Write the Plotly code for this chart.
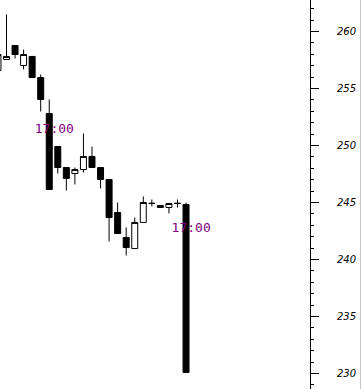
import plotly.graph_objects as go

# candle index (bar number)
bars = list(range(23))
opens = [256.58, 257.54, 258.77, 257.02, 257.81, 255.96, 252.81, 249.91, 248.07, 247.54,
         247.89, 249.04, 248.07, 247.02, 244.12, 241.93, 240.96, 243.25, 244.91, 244.56,
         244.56, 244.91, 244.82]
highs = [257.98, 261.49, 258.77, 258.42, 257.81, 256.23, 254.04, 249.91, 248.07, 248.07,
         251.05, 249.91, 248.07, 247.02, 245.00, 242.81, 243.68, 245.53, 245.26, 244.74,
         244.91, 245.26, 245.00]
lows = [256.58, 257.54, 257.63, 256.67, 255.96, 252.98, 246.14, 247.54, 246.05, 246.58,
        247.63, 248.07, 246.23, 241.58, 242.28, 240.35, 240.96, 243.25, 244.65, 244.56,
        244.04, 244.56, 230.09]
closes = [257.98, 257.81, 257.98, 257.98, 255.96, 254.04, 246.14, 248.07, 247.11, 247.89,
          249.04, 248.07, 247.02, 243.68, 242.28, 241.05, 243.25, 245.00, 244.93, 244.74,
          244.91, 244.93, 230.09]

# session-start markers
session_bars = [6, 22]
session_labels = ["17:00", "17:00"]
session_levels = [251.40, 242.66]

fig = go.Figure()

fig.add_trace(go.Scatter(
    x=[b + 0.6 for b in session_bars], y=session_levels, text=session_labels,
    mode="text", textposition="middle center",
    textfont=dict(family="DejaVu Sans Mono", size=13, color="#800080"),
    showlegend=False, hoverinfo="skip"))

fig.add_trace(go.Candlestick(
    x=bars, open=opens, high=highs, low=lows, close=closes,
    increasing=dict(fillcolor="white", line=dict(color="black", width=1)),
    decreasing=dict(fillcolor="black", line=dict(color="black", width=1)),
    whiskerwidth=0, showlegend=False))

fig.update_layout(
    width=362, height=389,
    margin=dict(l=0, r=52, t=0, b=0),
    paper_bgcolor="white", plot_bgcolor="white",
    boxgap=0.3, boxgroupgap=0,
    xaxis=dict(visible=False, range=[0.24, 36.5], rangeslider=dict(visible=False)),
    yaxis=dict(
        side="right", range=[228.64, 262.763], showgrid=False, zeroline=False,
        showline=True, linecolor="black", linewidth=1,
        ticks="outside", ticklen=8, tickcolor="black", tickwidth=1, dtick=5,
        tickfont=dict(family="DejaVu Sans", size=10, color="black", style="italic"),
        ticklabelstandoff=16,
        minor=dict(ticks="outside", ticklen=3, dtick=1, tickcolor="black", showgrid=False),
    ),
    shapes=[dict(type="line", xref="paper", yref="paper", x0=360.5/310, x1=360.5/310,
                 y0=0, y1=1, line=dict(color="#c8c8c8", width=1))],
)

fig.write_html("out.html")
